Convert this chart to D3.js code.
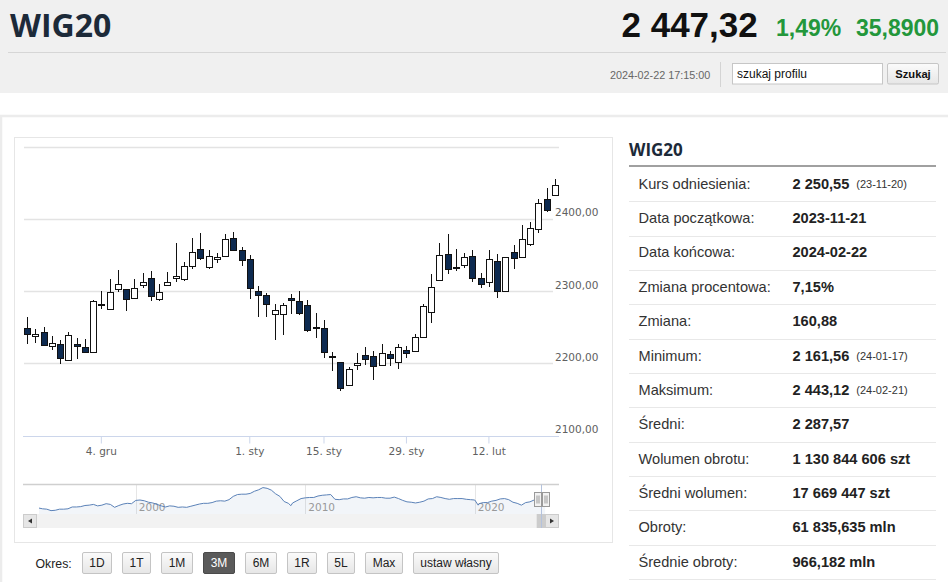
<!DOCTYPE html>
<html><head><meta charset="utf-8">
<script src="https://cdn.jsdelivr.net/npm/d3@7"></script>
<style>
html,body{margin:0;padding:0;background:#fff;overflow:hidden;}
svg{display:block;}
</style></head><body>
<svg id="c" width="948" height="582"></svg>
<script>
// ---------- DATA ----------
const dates = ["2023-11-21","2023-11-22","2023-11-23","2023-11-24","2023-11-27","2023-11-28","2023-11-29","2023-11-30","2023-12-01",
"2023-12-04","2023-12-05","2023-12-06","2023-12-07","2023-12-08","2023-12-11","2023-12-12","2023-12-13","2023-12-14","2023-12-15",
"2023-12-18","2023-12-19","2023-12-20","2023-12-21","2023-12-22","2023-12-27","2023-12-28","2023-12-29",
"2024-01-02","2024-01-03","2024-01-04","2024-01-05","2024-01-08","2024-01-09","2024-01-10","2024-01-11","2024-01-12",
"2024-01-15","2024-01-16","2024-01-17","2024-01-18","2024-01-19","2024-01-22","2024-01-23","2024-01-24","2024-01-25","2024-01-26",
"2024-01-29","2024-01-30","2024-01-31","2024-02-01","2024-02-02","2024-02-05","2024-02-06","2024-02-07","2024-02-08","2024-02-09",
"2024-02-12","2024-02-13","2024-02-14","2024-02-15","2024-02-16","2024-02-19","2024-02-20","2024-02-21","2024-02-22"];
const openV  = [2248.7,2238.0,2243.2,2224.3,2227.1,2204.0,2227.1,2222.0,2215.1,2281.0,2274.6,2302.2,2302.2,2290.7,2308.2,2318.4,2288.8,2308.7,2317.4,2317.0,2334.5,2357.5,2333.1,2344.6,2348.3,2373.7,2356.6,2344.2,2299.9,2294.4,2267.6,2268.6,2290.7,2286.1,2280.1,2248.8,2248.3,2210.5,2201.7,2170.4,2198.0,2211.4,2210.1,2197.1,2213.2,2201.7,2218.8,2216.5,2236.3,2270.9,2314.7,2350.6,2333.6,2335.9,2348.3,2317.5,2312.4,2341.9,2299.9,2353.9,2347.0,2364.5,2386.1,2426.7,2432.2];
const highV  = [2264.4,2247.0,2250.2,2237.7,2231.7,2243.2,2235.0,2234.0,2287.5,2299.9,2316.0,2328.5,2303.0,2316.0,2325.3,2327.6,2309.1,2326.6,2365.8,2340.5,2372.7,2379.7,2356.1,2352.9,2378.3,2382.0,2360.8,2349.7,2306.8,2297.6,2281.5,2283.8,2295.3,2299.9,2287.5,2270.0,2259.3,2215.5,2202.0,2195.3,2213.7,2222.5,2217.0,2226.2,2216.5,2227.0,2223.9,2240.0,2282.4,2323.0,2365.9,2378.3,2357.6,2352.0,2356.2,2325.3,2356.2,2350.7,2347.4,2363.1,2390.8,2395.4,2427.6,2443.12,2455.3];
const lowV   = [2226.2,2228.5,2223.9,2218.3,2198.5,2203.1,2205.4,2215.0,2214.6,2274.6,2274.0,2298.5,2271.8,2290.7,2304.5,2286.1,2286.1,2307.3,2312.8,2313.7,2330.8,2342.3,2330.3,2338.6,2346.9,2356.0,2334.0,2288.4,2263.9,2263.9,2231.7,2238.6,2268.6,2266.3,2243.2,2235.4,2206.8,2189.3,2161.56,2169.4,2190.7,2197.1,2176.8,2196.2,2196.2,2192.5,2207.7,2215.5,2235.4,2256.2,2314.5,2323.9,2327.6,2331.3,2312.4,2304.5,2305.9,2289.8,2299.0,2330.8,2347.0,2362.2,2380.6,2409.2,2432.0];
const closeV = [2240.9,2240.4,2225.2,2228.5,2207.7,2239.1,2223.4,2215.1,2286.5,2281.5,2298.5,2309.2,2289.3,2304.5,2312.8,2293.0,2298.5,2311.9,2320.6,2334.9,2353.8,2345.5,2347.8,2347.4,2371.4,2356.1,2343.2,2303.6,2293.9,2281.5,2274.1,2280.1,2287.5,2269.9,2245.5,2249.7,2216.0,2209.0,2166.2,2192.5,2200.1,2205.4,2196.2,2213.7,2206.8,2222.5,2213.7,2236.8,2279.2,2305.5,2349.7,2329.9,2331.7,2347.0,2318.4,2309.2,2344.7,2299.9,2347.4,2346.1,2371.4,2387.5,2422.1,2411.43,2447.32];

const yGridTicks = [2100,2200,2300,2400,2500];
const yLabelTicks = [2100,2200,2300,2400];
const xTickDates = ["2023-12-04","2024-01-02","2024-01-15","2024-01-29","2024-02-12"];
const xTickLabels = ["4. gru","1. sty","15. sty","29. sty","12. lut"];

// navigator (long history, approximate quarterly levels)
const navYears = [1994.29,1994.5,1994.75,1995.0,1995.25,1995.5,1995.75,1996.0,1996.25,1996.5,1996.75,1997.0,1997.25,1997.5,1997.75,
1998.0,1998.25,1998.5,1998.75,1999.0,1999.25,1999.5,1999.75,2000.0,2000.25,2000.5,2000.75,2001.0,2001.25,2001.5,2001.75,
2002.0,2002.25,2002.5,2002.75,2003.0,2003.25,2003.5,2003.75,2004.0,2004.25,2004.5,2004.75,2005.0,2005.25,2005.5,2005.75,
2006.0,2006.25,2006.5,2006.75,2007.0,2007.25,2007.5,2007.75,2008.0,2008.25,2008.5,2008.75,2009.0,2009.15,2009.25,2009.5,2009.75,
2010.0,2010.25,2010.5,2010.75,2011.0,2011.25,2011.5,2011.75,2012.0,2012.25,2012.5,2012.75,2013.0,2013.25,2013.5,2013.75,
2014.0,2014.25,2014.5,2014.75,2015.0,2015.25,2015.5,2015.75,2016.0,2016.25,2016.5,2016.75,2017.0,2017.25,2017.5,2017.75,
2018.0,2018.25,2018.5,2018.75,2019.0,2019.25,2019.5,2019.75,2020.0,2020.2,2020.25,2020.5,2020.75,2021.0,2021.25,2021.5,2021.75,
2022.0,2022.25,2022.5,2022.75,2023.0,2023.25,2023.5,2023.75,2023.9,2024.0,2024.15];
const navValues = [1000,900,850,650,700,850,850,900,1150,1150,1200,1350,1400,1500,1300,
1400,1600,1500,1100,1350,1550,1650,1600,2050,2100,2000,1800,1700,1500,1300,1150,
1300,1250,1100,1150,1100,1250,1400,1550,1650,1650,1750,1950,2000,1950,2150,2600,
2850,2900,2900,3000,3300,3500,3800,3700,3450,2950,2600,1900,1650,1330,1700,2000,2300,
2400,2450,2450,2650,2750,2800,2850,2200,2150,2250,2250,2450,2550,2400,2350,2450,
2400,2450,2450,2350,2350,2500,2300,2050,1850,1800,1700,1800,1950,2250,2300,2550,
2450,2300,2200,2300,2300,2300,2200,2150,2100,1400,1600,1750,1750,1950,2050,2250,2300,
2150,1800,1650,1400,1750,1850,2100,2000,2250,2350,2440];
const navLabelYears = [2000,2010,2020];

const statLabels = ["Kurs odniesienia:","Data początkowa:","Data końcowa:","Zmiana procentowa:","Zmiana:","Minimum:","Maksimum:","Średni:","Wolumen obrotu:","Średni wolumen:","Obroty:","Średnie obroty:"];
const statValues = ["2 250,55","2023-11-21","2024-02-22","7,15%","160,88","2 161,56","2 443,12","2 287,57","1 130 844 606 szt","17 669 447 szt","61 835,635 mln","966,182 mln"];
const statNotes  = ["(23-11-20)","","","","","(24-01-17)","(24-02-21)","","","","",""];

const periodButtons = ["1D","1T","1M","3M","6M","1R","5L","Max","ustaw własny"];
const activePeriod = "3M";

const headerName = "WIG20", headerPrice = "2 447,32", headerPct = "1,49%", headerChg = "35,8900", headerTime = "2024-02-22 17:15:00";

// ---------- DRAW ----------
const svg = d3.select("#c");
const SANS = "'Liberation Sans', Arial, sans-serif";
const CH = "'DejaVu Sans', Verdana, sans-serif";

// header band
svg.append("rect").attr("x",0).attr("y",0).attr("width",948).attr("height",93).attr("fill","#f0f0f0");
svg.append("line").attr("x1",8).attr("x2",946).attr("y1",52.5).attr("y2",52.5).attr("stroke","#d6d6d6");
svg.append("text").attr("x",10).attr("y",36.5).text(headerName)
  .attr("font-family","'Open Sans', sans-serif").attr("font-weight",700).attr("font-size",32).attr("fill","#1c2a39");
svg.append("text").attr("x",621.5).attr("y",36.7).attr("font-family",SANS).attr("font-weight",700).attr("font-size",35).attr("fill","#111").text(headerPrice);
svg.append("text").attr("x",776).attr("y",36).attr("font-family",SANS).attr("font-weight",700).attr("font-size",23).attr("fill","#23973b").text(headerPct);
svg.append("text").attr("x",856).attr("y",36).attr("font-family",SANS).attr("font-weight",700).attr("font-size",23).attr("fill","#23973b").text(headerChg);
svg.append("text").attr("x",610).attr("y",79).attr("font-family",SANS).attr("font-size",10.8).attr("fill","#666").text(headerTime);
svg.append("line").attr("x1",720.5).attr("x2",720.5).attr("y1",62).attr("y2",87).attr("stroke","#d4d4d4");
svg.append("rect").attr("x",732.5).attr("y",63.5).attr("width",150).attr("height",20.5).attr("fill","#fff").attr("stroke","#c6c6c6");
svg.append("text").attr("x",737).attr("y",77.5).attr("font-family",SANS).attr("font-size",12).attr("fill","#111").text("szukaj profilu");
const defs = svg.append("defs");
const gr = defs.append("linearGradient").attr("id","btn").attr("x1",0).attr("x2",0).attr("y1",0).attr("y2",1);
gr.append("stop").attr("offset","0").attr("stop-color","#fbfbfb");
gr.append("stop").attr("offset","1").attr("stop-color","#e6e6e6");
svg.append("rect").attr("x",887.5).attr("y",63.5).attr("width",51).attr("height",20.5).attr("fill","url(#btn)").attr("stroke","#c6c6c6").attr("rx",1.5);
svg.append("text").attr("x",913).attr("y",78).attr("text-anchor","middle").attr("font-family",SANS).attr("font-weight",700).attr("font-size",11.2).attr("fill","#111").text("Szukaj");

// outer panel
svg.append("rect").attr("x",1).attr("y",116).attr("width",960).attr("height",500).attr("fill","#fff").attr("stroke","#ececec").attr("stroke-width",2.5);
// chart box
svg.append("rect").attr("x",14.5).attr("y",137.5).attr("width",598).attr("height",405).attr("fill","#fff").attr("stroke","#e6e6e6");

// scales
const x = d3.scaleBand().domain(dates).range([23,559]);
const y = d3.scaleLinear().domain([2100,2500]).range([435.5,146.5]);
const cx = d => Math.round(x(d) + x.bandwidth()/2) + 0.5;
const crisp = v => Math.round(v) + 0.5;

// grid
svg.append("g").selectAll("line").data(yGridTicks.filter(t=>t!==2100)).join("line")
  .attr("x1",24).attr("x2",t=>yLabelTicks.includes(t)?553:559)
  .attr("y1",t=>crisp(y(t))).attr("y2",t=>crisp(y(t)))
  .attr("stroke","#e3e3e3").attr("stroke-width",1.3);

// y labels
svg.append("g").selectAll("text").data(yLabelTicks).join("text")
  .attr("x",555).attr("y",t=>y(t)-2.5)
  .attr("font-family",CH).attr("font-size",10.5).attr("fill","#606060")
  .text(t=>t.toFixed(2).replace(".",","));

// x axis
const xAxis = d3.axisBottom(x).tickValues(xTickDates).tickFormat((d,i)=>xTickLabels[i]).tickSize(7).tickSizeOuter(0).tickPadding(4);
const xg = svg.append("g").attr("transform","translate(0,"+crisp(y(2100))+")").call(xAxis);
xg.select(".domain").attr("stroke","#ccd6eb").attr("d","M23,0H559");
xg.selectAll(".tick line").attr("stroke","#ccd6eb");
xg.selectAll(".tick text").attr("font-family",CH).attr("font-size",10.5).attr("fill","#606060");

// candles
const data = dates.map((d,i)=>({d, o:openV[i], h:highV[i], l:lowV[i], c:closeV[i]}));
const cg = svg.append("g");
cg.selectAll("line").data(data).join("line")
  .attr("x1",p=>cx(p.d)).attr("x2",p=>cx(p.d))
  .attr("y1",p=>Math.round(y(p.h))).attr("y2",p=>Math.round(y(p.l)))
  .attr("stroke","#111").attr("stroke-width",1);
cg.selectAll("rect").data(data).join("rect")
  .attr("x",p=>cx(p.d)-3).attr("width",6)
  .attr("y",p=>crisp(y(Math.max(p.o,p.c))))
  .attr("height",p=>Math.max(1, Math.round(y(Math.min(p.o,p.c))) - Math.round(y(Math.max(p.o,p.c)))))
  .attr("fill",p=>p.c>=p.o?"#ffffff":"#0d2a50")
  .attr("stroke","#111").attr("stroke-width",1);

// navigator
const navTop = 484.5, navBot = 514, sbBot = 528;
const toDate = yr => { const Y=Math.floor(yr); const s=new Date(Y,0,1), e=new Date(Y+1,0,1); return new Date(+s + (yr-Y)*(e-s)); };
const nx = d3.scaleTime().domain([toDate(1994.29), new Date(2024,1,22)]).range([39,545]);
const ny = d3.scaleLinear().domain([600,3950]).range([511,486.5]);
const nav = navYears.map((t,i)=>({t:toDate(t), v:navValues[i]}));
svg.append("g").selectAll("line").data(navLabelYears).join("line")
  .attr("x1",d=>crisp(nx(new Date(d,0,1)))).attr("x2",d=>crisp(nx(new Date(d,0,1))))
  .attr("y1",navTop).attr("y2",navBot).attr("stroke","#e6e6e6");
svg.append("path").datum(nav).attr("fill","rgba(69,114,167,0.07)")
  .attr("d",d3.area().x(p=>nx(p.t)).y0(navBot).y1(p=>ny(p.v)));
svg.append("g").selectAll("text").data(navLabelYears).join("text")
  .attr("x",d=>nx(new Date(d,0,1))+3).attr("y",511)
  .attr("font-family",CH).attr("font-size",10.5).attr("fill","#999").text(d=>d);
svg.append("path").datum(nav).attr("fill","none").attr("stroke","#5b82b8").attr("stroke-width",1)
  .attr("d",d3.line().x(p=>nx(p.t)).y(p=>ny(p.v)));
svg.append("line").attr("x1",23).attr("x2",559).attr("y1",navTop).attr("y2",navTop).attr("stroke","#cfcfcf").attr("stroke-width",1.5);

// scrollbar
svg.append("rect").attr("x",23).attr("y",navBot).attr("width",536).attr("height",sbBot-navBot).attr("fill","#f2f2f2");
svg.append("rect").attr("x",23.5).attr("y",navBot+0.5).attr("width",13).attr("height",sbBot-navBot-1).attr("fill","#e6e6e6").attr("stroke","#cccccc");
svg.append("path").attr("d",`M32,${navBot+4.5}L28,${navBot+7}L32,${navBot+9.5}Z`).attr("fill","#333");
const zoneL = nx(new Date(2023,10,21)), zoneR = nx(new Date(2024,1,22));
svg.append("rect").attr("x",zoneL-4).attr("y",navBot).attr("width",zoneR-zoneL+8).attr("height",sbBot-navBot).attr("fill","#cccccc");
svg.append("rect").attr("x",545.5).attr("y",navBot+0.5).attr("width",13).attr("height",sbBot-navBot-1).attr("fill","#e6e6e6").attr("stroke","#cccccc");
svg.append("path").attr("d",`M550,${navBot+4.5}L554,${navBot+7}L550,${navBot+9.5}Z`).attr("fill","#333");
svg.append("line").attr("x1",crisp(zoneL)).attr("x2",crisp(zoneL)).attr("y1",navTop).attr("y2",sbBot).attr("stroke","#b4c2dc");
// handles
[zoneL-3, zoneR+0.5].forEach(hx=>{
  const h = svg.append("g").attr("transform",`translate(${Math.round(hx-3.5)+0.5},492.5)`);
  h.append("rect").attr("width",7).attr("height",14).attr("fill","#f2f2f2").attr("stroke","#999");
  h.append("line").attr("x1",2.5).attr("x2",2.5).attr("y1",3).attr("y2",11).attr("stroke","#999");
  h.append("line").attr("x1",4.5).attr("x2",4.5).attr("y1",3).attr("y2",11).attr("stroke","#999");
});

// period buttons
svg.append("text").attr("x",35.5).attr("y",567.5).attr("font-family",SANS).attr("font-size",12.3).attr("fill","#222").text("Okres:");
let bx = 82.5;
periodButtons.forEach(b=>{
  const active = b===activePeriod;
  const g = svg.append("g");
  const r = g.append("rect").attr("y",552.5).attr("height",21).attr("rx",1.5)
    .attr("fill",active?"#5a5a5a":"url(#btn)").attr("stroke",active?"#4a4a4a":"#c4c4c4");
  const t = g.append("text").attr("y",567).attr("font-family",SANS).attr("font-size",12)
    .attr("fill",active?"#fff":"#222").attr("text-anchor","middle").text(b);
  const w = Math.round(t.node().getComputedTextLength() + 14);
  r.attr("x",bx).attr("width",w);
  t.attr("x",bx+w/2);
  bx += w + 11;
});

// stats table
svg.append("text").attr("x",629).attr("y",155.5).attr("font-family","'Open Sans', sans-serif").attr("font-weight",700).attr("font-size",17).attr("fill","#1c2a39").text(headerName);
svg.append("line").attr("x1",629).attr("x2",936).attr("y1",166).attr("y2",166).attr("stroke","#a0a0a0").attr("stroke-width",2);
const rowH = 34.36, row0 = 188.7;
const tg = svg.append("g");
statLabels.forEach((lab,i)=>{
  const by = row0 + i*rowH;
  tg.append("text").attr("x",638.5).attr("y",by).attr("font-family",SANS).attr("font-size",14.6).attr("fill","#333").text(lab);
  const v = tg.append("text").attr("x",792.5).attr("y",by).attr("font-family",SANS).attr("font-size",14.6).attr("font-weight",700).attr("fill","#222").text(statValues[i]);
  if (statNotes[i]) {
    tg.append("text").attr("x",792.5 + v.node().getComputedTextLength() + 7).attr("y",by-0.5).attr("font-family",SANS).attr("font-size",11).attr("fill","#333").text(statNotes[i]);
  }
  tg.append("line").attr("x1",629).attr("x2",936).attr("y1",crisp(by+12.5)).attr("y2",crisp(by+12.5)).attr("stroke","#e8e8e8");
});
</script>
</body></html>
